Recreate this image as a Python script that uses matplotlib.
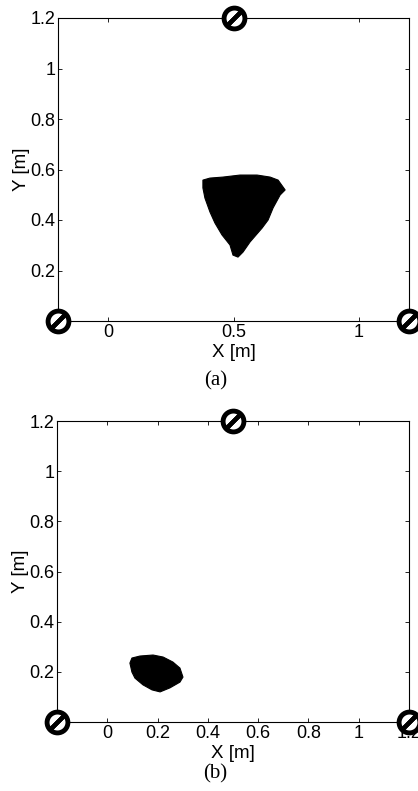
import matplotlib
matplotlib.use("Agg")
import matplotlib.pyplot as plt

# Beacon positions (same in both panels)
beacon_x = [-0.2, 0.5, 1.2]
beacon_y = [0.0, 1.2, 0.0]

# Outline of the estimated-position cloud, panel (a)
blob_a_x = [0.378, 0.406, 0.458, 0.526, 0.594, 0.646, 0.678, 0.706, 0.686, 0.658,
            0.638, 0.614, 0.566, 0.538, 0.518, 0.498, 0.486, 0.454, 0.426, 0.406,
            0.386, 0.378]
blob_a_y = [0.558, 0.566, 0.570, 0.578, 0.578, 0.570, 0.558, 0.519, 0.499, 0.448,
            0.400, 0.368, 0.313, 0.273, 0.253, 0.261, 0.301, 0.341, 0.388, 0.432,
            0.487, 0.527]

# Outline of the estimated-position cloud, panel (b)
blob_b_x = [0.098, 0.130, 0.182, 0.222, 0.261, 0.289, 0.301, 0.289, 0.249, 0.210,
            0.178, 0.142, 0.110, 0.098, 0.090]
blob_b_y = [0.255, 0.263, 0.267, 0.259, 0.239, 0.215, 0.179, 0.159, 0.136, 0.120,
            0.128, 0.148, 0.175, 0.199, 0.235]

xticks_a = [0, 0.5, 1]
xticklabels_a = ["0", "0.5", "1"]
yticks_a = [0.2, 0.4, 0.6, 0.8, 1.0, 1.2]
yticklabels_a = ["0.2", "0.4", "0.6", "0.8", "1", "1.2"]

xticks_b = [0, 0.2, 0.4, 0.6, 0.8, 1.0, 1.2]
xticklabels_b = ["0", "0.2", "0.4", "0.6", "0.8", "1", "1.2"]
yticks_b = [0, 0.2, 0.4, 0.6, 0.8, 1.0, 1.2]
yticklabels_b = ["0", "0.2", "0.4", "0.6", "0.8", "1", "1.2"]

plt.rcParams['font.family'] = ['Liberation Sans', 'DejaVu Sans']

W, H = 418, 791
fig = plt.figure(figsize=(W / 100, H / 100), dpi=100)

def make_panel(rect, bx, by, xt, xtl, yt, ytl, caption, cap_x, cap_y):
    ax = fig.add_axes(rect)
    ax.fill(bx, by, color='black', lw=0.8, ec='black', zorder=2)
    ax.set_xlim(-0.2, 1.2)
    ax.set_ylim(0, 1.2)
    ax.set_xticks(xt)
    ax.set_xticklabels(xtl)
    ax.set_yticks(yt)
    ax.set_yticklabels(ytl)
    ax.tick_params(direction='in', length=3, width=0.6, top=True, right=True,
                   labelsize=13, pad=2, colors='black')
    for s in ax.spines.values():
        s.set_linewidth(0.8)
        s.set_color('black')
    ax.set_xlabel("X [m]", fontsize=13.5, labelpad=2)
    ax.set_ylabel("Y [m]", fontsize=13.5, labelpad=0)
    # beacons: ring with diagonal slash
    ax.plot(beacon_x, beacon_y, 'o', ms=15, mfc='white', mec='black', mew=3.5,
            clip_on=False, zorder=5)
    ax.plot(beacon_x, beacon_y, ls='none', marker=(2, 2, -45), ms=12, mec='black',
            mew=3, clip_on=False, zorder=6)
    fig.text(cap_x, cap_y, caption, ha='center', va='center', fontsize=15,
             family='Liberation Serif')
    return ax

make_panel([58 / W, 1 - 321 / H, 351 / W, 303 / H], blob_a_x, blob_a_y,
           xticks_a, xticklabels_a, yticks_a, yticklabels_a, "(a)",
           216 / W, 1 - 381 / H)
make_panel([57 / W, 1 - 722 / H, 352 / W, 301 / H], blob_b_x, blob_b_y,
           xticks_b, xticklabels_b, yticks_b, yticklabels_b, "(b)",
           215 / W, 1 - 774 / H)

fig.savefig("out.png", dpi=100)
